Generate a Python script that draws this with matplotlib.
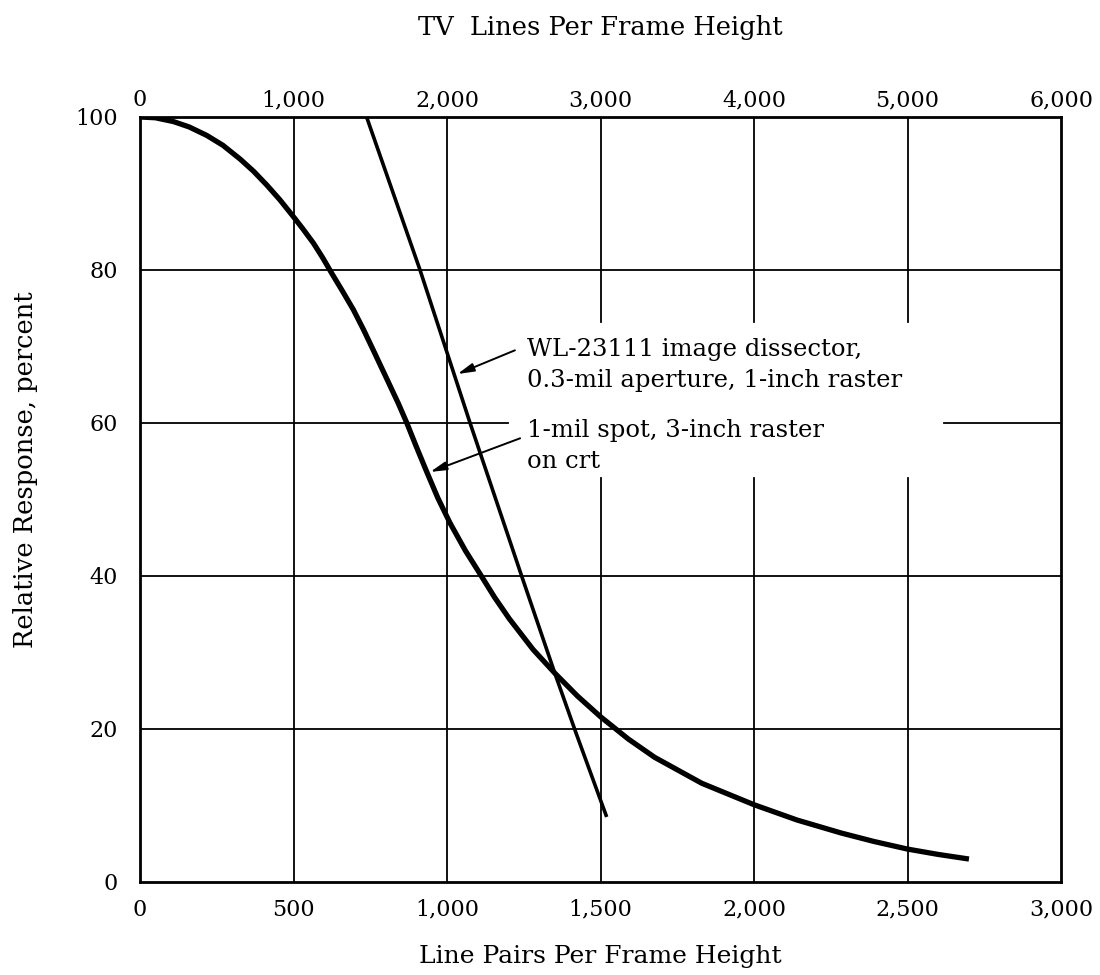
import numpy as np
import matplotlib
matplotlib.use("Agg")
import matplotlib.pyplot as plt
from matplotlib.ticker import FuncFormatter

# line pairs per frame height vs relative response (percent)
spot_lp = [0, 50, 109, 160, 217, 270, 326, 370, 413, 455, 499, 530, 565, 595, 624,
           660, 695, 728, 760, 787, 814, 842, 869, 900, 934, 970, 1010, 1060, 1107,
           1155, 1203, 1280, 1351, 1425, 1500, 1590, 1676, 1830, 2000, 2140, 2284,
           2390, 2500, 2600, 2700]
spot_resp = [100, 99.9, 99.4, 98.7, 97.6, 96.3, 94.5, 92.9, 91.1, 89.2, 87.0, 85.4,
             83.5, 81.6, 79.6, 77.2, 74.8, 72.2, 69.5, 67.2, 64.9, 62.5, 60.0, 56.9,
             53.6, 50.2, 46.9, 43.3, 40.3, 37.2, 34.4, 30.4, 27.3, 24.3, 21.6, 18.7,
             16.3, 12.9, 10.1, 8.1, 6.4, 5.3, 4.3, 3.6, 3.0]

dissector_lp = [738, 912, 1075, 1243, 1351, 1419, 1520]
dissector_resp = [100, 80, 60, 40, 27.3, 19.6, 8.5]

lp_ticks = [0, 500, 1000, 1500, 2000, 2500, 3000]
tv_ticks = [0, 1000, 2000, 3000, 4000, 5000, 6000]
resp_ticks = [0, 20, 40, 60, 80, 100]

label_dissector = "WL-23111 image dissector,\n0.3-mil aperture, 1-inch raster"
label_spot = "1-mil spot, 3-inch raster\non crt"

plt.rcParams['font.family'] = ['DejaVu Serif']

fig = plt.figure(figsize=(11, 9.75), dpi=100)
ax = fig.add_axes([0.1273, 0.0954, 0.8373, 0.7846])
ax.set_xlim(0, 3000)
ax.set_ylim(0, 100)

# grid, with the gaps left for the labels in the original
gw = 1.3
for x in lp_ticks[1:-1]:
    if x >= 1500:
        ax.plot([x, x], [0, 52.8], color='black', lw=gw, zorder=1)
        ax.plot([x, x], [73.2, 100], color='black', lw=gw, zorder=1)
    else:
        ax.plot([x, x], [0, 100], color='black', lw=gw, zorder=1)
for y in resp_ticks[1:-1]:
    if y == 60:
        ax.plot([0, 1200], [y, y], color='black', lw=gw, zorder=1)
        ax.plot([2620, 3000], [y, y], color='black', lw=gw, zorder=1)
    else:
        ax.plot([0, 3000], [y, y], color='black', lw=gw, zorder=1)

ax.plot(spot_lp, spot_resp, color='black', lw=3.8, solid_capstyle='butt',
        solid_joinstyle='round', zorder=3)
ax.plot(dissector_lp, dissector_resp, color='black', lw=2.6, solid_capstyle='butt',
        solid_joinstyle='round', zorder=3)

# labels and leader arrows
ax.text(1260, 67.6, label_dissector, fontsize=17.5, va='center', ha='left',
        linespacing=1.45)
ax.text(1260, 57.0, label_spot, fontsize=17.5, va='center', ha='left',
        linespacing=1.45)
arrow = dict(arrowstyle='-|>,head_length=0.7,head_width=0.18', color='black',
             lw=1.4, shrinkA=0, shrinkB=0, mutation_scale=14)
ax.annotate('', xy=(1034, 66.4), xytext=(1221, 69.5), arrowprops=arrow)
ax.annotate('', xy=(945, 53.6), xytext=(1238, 58.0), arrowprops=arrow)

fmt = FuncFormatter(lambda v, p: f"{int(v):,}")
ax.set_xticks(lp_ticks)
ax.xaxis.set_major_formatter(fmt)
ax.set_yticks(resp_ticks)
ax.tick_params(axis='both', length=0, labelsize=16, pad=12)
ax.tick_params(axis='y', pad=16)

top = ax.secondary_xaxis('top', functions=(lambda x: 2 * x, lambda x: x / 2))
top.set_xticks(tv_ticks)
top.xaxis.set_major_formatter(fmt)
top.tick_params(length=0, labelsize=16, pad=4)
top.spines['top'].set_visible(False)

for s in ax.spines.values():
    s.set_linewidth(2.0)

fig.text(0.5455, 1 - 957 / 975, "Line Pairs Per Frame Height", fontsize=18,
         ha='center', va='center')
fig.text(26 / 1100, 1 - 470 / 975, "Relative Response, percent", fontsize=18.5,
         ha='center', va='center', rotation=90)
fig.text(0.5455, 1 - 27 / 975, "TV  Lines Per Frame Height", fontsize=18.5,
         ha='center', va='center')

fig.savefig("out.png", dpi=100, facecolor='white')
